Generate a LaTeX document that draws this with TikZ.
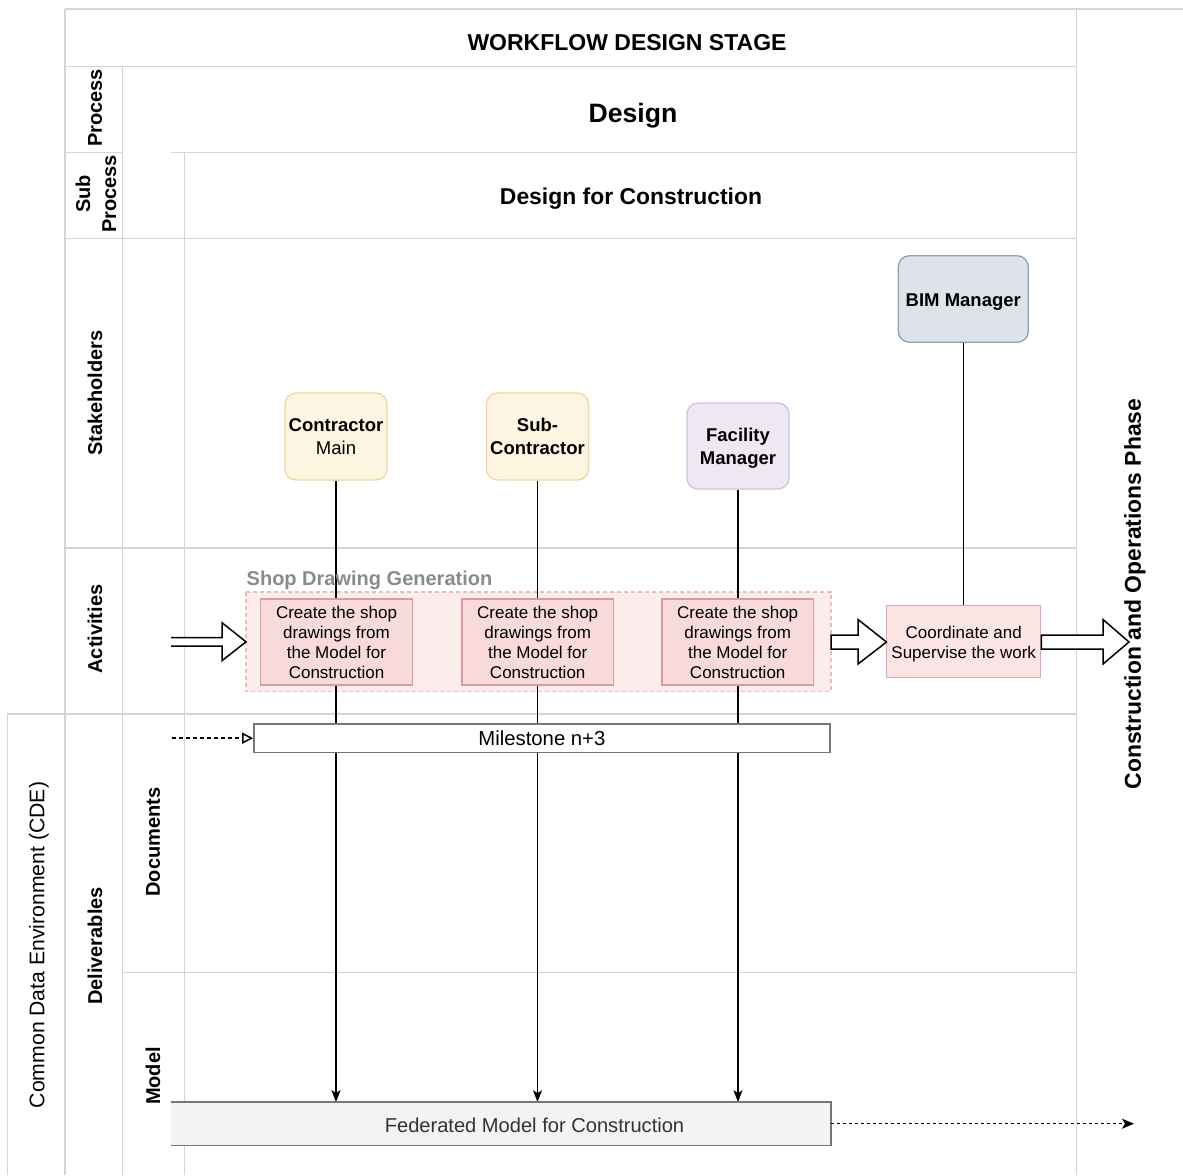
\documentclass[tikz,border=0pt]{standalone}
\usepackage{fontspec}
\setmainfont{Liberation Sans}
\usetikzlibrary{arrows.meta}

\pgfdeclarelayer{grid}
\pgfdeclarelayer{wires}
\pgfsetlayers{grid,wires,main}

\definecolor{gridline}{HTML}{D4D4D4}
\definecolor{yellowfill}{HTML}{FDF5E1}
\definecolor{yellowline}{HTML}{EFD9A0}
\definecolor{purplefill}{HTML}{EFE8F3}
\definecolor{purpleline}{HTML}{D2C1DE}
\definecolor{bluefill}{HTML}{DEE3EA}
\definecolor{blueline}{HTML}{8EA2B4}
\definecolor{taskfill}{HTML}{F8DADA}
\definecolor{taskline}{HTML}{D99C9C}
\definecolor{coordfill}{HTML}{FBE4E4}
\definecolor{coordline}{HTML}{E0A9A9}
\definecolor{groupfill}{HTML}{FCEDED}
\definecolor{groupline}{HTML}{F1BABA}
\definecolor{greyfill}{HTML}{F3F3F3}
\definecolor{greyline}{HTML}{777777}
\definecolor{greytext}{HTML}{333333}
\definecolor{grouptext}{HTML}{8A8A8A}

\newcommand\setfs[2]{\fontsize{#1}{#2}\selectfont}

\tikzset{
  lane/.style={draw=gridline, line width=1.4pt},
  lanelabel/.style={font=\bfseries\setfs{20}{26}, rotate=90, align=center, inner sep=0pt},
  heading/.style={font=\bfseries, inner sep=0pt},
  actor/.style={rounded corners=11pt, minimum width=102pt, minimum height=87pt,
    align=center, font=\setfs{18.5}{23}, line width=1.3pt, inner sep=0pt},
  actortext/.style={align=center, font=\bfseries\setfs{18.5}{23}, inner sep=0pt},
  task/.style={draw=taskline, fill=taskfill, minimum width=151.5pt, minimum height=86pt,
    align=center, font=\setfs{17}{20}, line width=1.3pt, inner sep=0pt},
  bar/.style={draw=greyline, line width=1.5pt, inner sep=0pt},
  wire/.style={draw=black, line width=1.5pt},
  blockarrow/.style={draw=black, fill=white, line width=1.5pt, line join=miter},
}

\begin{document}
\begin{tikzpicture}[x=1pt, y=-1pt]
\useasboundingbox (0,0) rectangle (1183,1175);

% ---------- stakeholder, activity and deliverable nodes ----------
\node[actor, draw=yellowline, fill=yellowfill] (contractor) at (336,436.5)
  {\textbf{Contractor}\\Main};
\node[actor, draw=yellowline, fill=yellowfill, font=\bfseries\setfs{18.5}{23}] (sub) at (537.5,436.5)
  {Sub-\\Contractor};
\node[actor, draw=purpleline, fill=purplefill, minimum height=86pt] (facility) at (738,446) {};
\node[actortext] (facilitytext) at ([yshift=-2.5pt]facility.center) {Facility\\Manager};
\node[actor, draw=blueline, fill=bluefill, minimum width=130pt, minimum height=86.5pt] (bim) at (963.3,299) {};
\node[actortext] (bimtext) at ([yshift=-3pt]bim.center) {BIM Manager};

\node[task] (task1) at (336.5,642) {Create the shop\\drawings from\\the Model for\\Construction};
\node[task] (task2) at (537.7,642) {Create the shop\\drawings from\\the Model for\\Construction};
\node[task] (task3) at (737.7,642) {Create the shop\\drawings from\\the Model for\\Construction};
\node[task, draw=coordline, fill=coordfill, minimum width=154pt, minimum height=72.5pt] (coord) at (963.7,641.5) {};
\node[align=center, font=\setfs{17}{20}, inner sep=0pt] (coordtext) at ([yshift=-3pt]coord.center)
  {Coordinate and\\Supervise the work};

\node[bar, fill=white, minimum width=576pt, minimum height=28.3pt, font=\setfs{20.3}{23}] (milestone) at (541.9,738.2)
  {Milestone n+3};
\node[inner sep=0pt, fill=greyfill, minimum width=659.7pt, minimum height=42.7pt] (fed) at (500.9,1123.7) {};
\draw[greyline, line width=1.4pt] (fed.north west) -- (fed.north east) -- (fed.south east) -- (fed.south west);
\node[inner sep=0pt, font=\setfs{20.1}{23}, text=greytext] (fedtext) at (534.5,1125) {Federated Model for Construction};

\coordinate (msin) at (171.5,738.2);
\coordinate (fedout) at (1134,1123.7);

% ---------- swimlane grid ----------
\begin{pgfonlayer}{grid}
  \draw[lane] (65,9) -- (1183,9);
  \draw[lane] (65,9) -- (65,1175);
  \draw[lane] (1076.7,9) -- (1076.7,1175);
  \draw[lane] (65,66.3) -- (1076.7,66.3);
  \draw[lane] (122.7,66.3) -- (122.7,1175);
  \draw[lane] (65,152.7) -- (122.7,152.7);
  \draw[lane] (171.3,152.7) -- (1076.7,152.7);
  \draw[lane] (184.3,152.7) -- (184.3,1175);
  \draw[lane] (65,238.7) -- (1076.7,238.7);
  \draw[lane] (65,548) -- (1076.7,548);
  \draw[lane] (7.3,714) -- (1076.7,714);
  \draw[lane] (7.3,714) -- (7.3,1175);
  \draw[lane] (122.7,972.7) -- (1076.7,972.7);
  % activity group frame
  \draw[groupline, fill=groupfill, line width=1.3pt, dash pattern=on 4pt off 3pt]
    (246,592) rectangle (831,691.7);
\end{pgfonlayer}

% ---------- connectors ----------
\begin{pgfonlayer}{wires}
  \draw[wire, -{Stealth[length=12pt, width=9pt, inset=3pt]}] (contractor.south) -- (contractor.south |- fed.north);
  \draw[wire, -{Stealth[length=12pt, width=9pt, inset=3pt]}] (sub.south) -- (sub.south |- fed.north);
  \draw[wire, -{Stealth[length=12pt, width=9pt, inset=3pt]}] (facility.south) -- (facility.south |- fed.north);
  \draw[wire] (bim.south) -- (bim.south |- coord.north);
\end{pgfonlayer}

\draw[wire, dash pattern=on 4pt off 3pt, -{Triangle[open, length=11pt, width=11pt]}] (msin) -- (milestone.west);
\draw[wire, dash pattern=on 3pt off 3pt, -{Stealth[length=12pt, width=10pt, inset=3pt]}] (fed.east) -- (fedout);

% ---------- block arrows ----------
\draw[blockarrow] (171,637.7) -- (222,637.7) -- (222,622.7) -- (246,641.8)
  -- (222,660.7) -- (222,646) -- (171,646);
\draw[blockarrow] (831,635) -- (858,635) -- (858,619.5) -- (886.5,642)
  -- (858,664) -- (858,649) -- (831,649) -- cycle;
\draw[blockarrow] (coord.east |- 0,635) -- (1103,635) -- (1103,619.5) -- (1129,642)
  -- (1103,664) -- (1103,649) -- (coord.east |- 0,649) -- cycle;

% ---------- headings and lane labels ----------
\node[heading, font=\bfseries\setfs{23}{27}] (title) at (627,43) {WORKFLOW DESIGN STAGE};
\node[heading, font=\bfseries\setfs{26.6}{30}] (design) at (633,116) {Design};
\node[heading, font=\bfseries\setfs{22.9}{27}] (dfc) at (631,198.5) {Design for Construction};

\node[lanelabel] (lprocess) at (95,108) {Process};
\node[lanelabel] (lsub) at (96,194) {Sub\\Process};
\node[lanelabel] (lstake) at (95,393) {Stakeholders};
\node[lanelabel] (lact) at (95,629) {Activities};
\node[lanelabel] (ldeliv) at (95,946) {Deliverables};
\node[lanelabel] (ldocs) at (153,842) {Documents};
\node[lanelabel] (lmodel) at (153,1076) {Model};
\node[lanelabel, font=\setfs{21.2}{25}] (lcde) at (39,945) {Common Data Environment (CDE)};
\node[lanelabel, font=\bfseries\setfs{22.9}{27}] (lphase) at (1135,594) {Construction and Operations Phase};

\node[anchor=base west, inner sep=0pt, font=\bfseries\setfs{20}{23}, text=grouptext] (gtitle) at (246.5,585)
  {Shop Drawing Generation};
\end{tikzpicture}
\end{document}
